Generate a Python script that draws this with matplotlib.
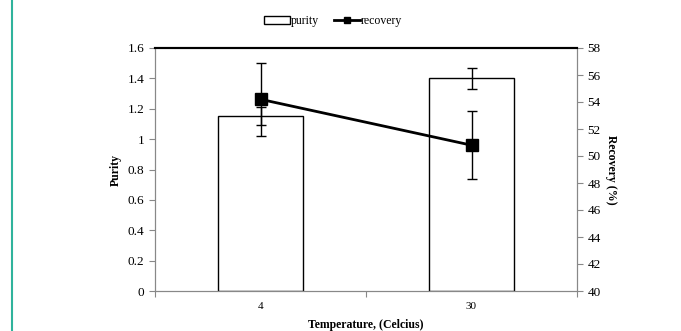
import numpy as np
import matplotlib.pyplot as plt
from matplotlib.lines import Line2D

temps = ['4', '30']
purity = [1.15, 1.40]
purity_err = [0.06, 0.07]
recovery = [54.2, 50.8]
recovery_err = [2.7, 2.5]

plt.rcParams['font.family'] = ['Liberation Serif', 'DejaVu Serif']

fig = plt.figure(figsize=(6.81, 3.31), dpi=100)
ax = fig.add_axes([155 / 681, 1 - 291 / 331, 422 / 681, 243 / 331])
ax2 = ax.twinx()

x = np.arange(len(temps))
bars = ax.bar(x, purity, width=0.4, color='white', edgecolor='black', linewidth=1.0,
              label='purity', zorder=2)
ax.errorbar(x, purity, yerr=purity_err, fmt='none', ecolor='black',
            elinewidth=1.0, capsize=3.5, capthick=1.0, zorder=3)

ax2.errorbar(x, recovery, yerr=recovery_err, color='black', linewidth=2.0,
             marker='s', markersize=8.5, elinewidth=1.0, capsize=3.5,
             capthick=1.0)

ax.set_xlim(-0.5, 1.5)
ax.set_ylim(0, 1.6)
ax.set_yticks(np.arange(0, 1.61, 0.2))
ax.set_yticklabels(['0', '0.2', '0.4', '0.6', '0.8', '1', '1.2', '1.4', '1.6'])
ax2.set_ylim(40, 58)
ax2.set_yticks(np.arange(40, 59, 2))

ax.set_xticks([-0.5, 0.5, 1.5])
ax.set_xticklabels([])
ax.set_xticks(x, minor=True)
ax.set_xticklabels(temps, minor=True)
ax.tick_params(axis='x', which='minor', length=0, pad=8, labelsize=8)
ax.tick_params(axis='x', which='major', length=4, color='#888888')
ax.tick_params(axis='y', labelsize=9.5, length=4, color='#888888')
ax2.tick_params(axis='y', labelsize=9.5, length=4, color='#888888')

for a in (ax, ax2):
    for side in ('left', 'right', 'bottom'):
        a.spines[side].set_color('#888888')
    a.spines['top'].set_color('black')
    a.spines['top'].set_linewidth(1.5)

ax.set_xlabel('Temperature, (Celcius)', fontweight='bold', fontsize=8.5, labelpad=6)
ax.set_ylabel('Purity', fontweight='bold', fontsize=8.5, labelpad=4)
ax2.set_ylabel('Recovery (%)', fontweight='bold', fontsize=8.5, rotation=270,
               labelpad=12)

rec_handle = Line2D([], [], color='black', linewidth=2.0, marker='s', markersize=4.5)
fig.legend([bars, rec_handle], ['purity', 'recovery'], loc='center',
           bbox_to_anchor=(333 / 681, 1 - 21 / 331),
           ncol=2, frameon=False, fontsize=8.5, handlelength=2.2, handletextpad=0.05,
           columnspacing=1.3)

fig.add_artist(Line2D([11.5 / 681, 11.5 / 681], [0, 1], color='#2fb39c',
                      linewidth=1.5, transform=fig.transFigure))

fig.savefig('out.png', dpi=100)
